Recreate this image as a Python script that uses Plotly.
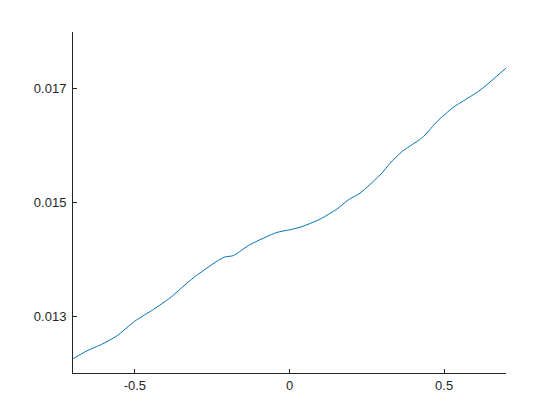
import plotly.graph_objects as go

x_vals = [-0.699, -0.656, -0.607, -0.559, -0.500, -0.440, -0.386, -0.311, -0.235,
          -0.209, -0.182, -0.128, -0.041, 0.002, 0.039, 0.099, 0.153, 0.190, 0.228,
          0.298, 0.325, 0.363, 0.416, 0.438, 0.476, 0.530, 0.557, 0.616, 0.700]
y_vals = [0.012254, 0.012387, 0.012505, 0.012650, 0.012913, 0.013118, 0.013323,
          0.013674, 0.013965, 0.014042, 0.014065, 0.014258, 0.014473, 0.014521,
          0.014573, 0.014708, 0.014883, 0.015046, 0.015164, 0.015514, 0.015690,
          0.015893, 0.016089, 0.016186, 0.016419, 0.016677, 0.016770, 0.016975,
          0.017365]

x_ticks = [-0.5, 0, 0.5]
x_tick_text = ["-0.5", "0", "0.5"]
y_ticks = [0.013, 0.015, 0.017]
y_tick_text = ["0.013", "0.015", "0.017"]

fig = go.Figure(go.Scatter(x=x_vals, y=y_vals, mode="lines",
                           line=dict(color="#0072BD", width=1, shape="spline", smoothing=0.6)))

axis_common = dict(showgrid=False, zeroline=False, showline=True, linecolor="#262626",
                   linewidth=1, ticks="inside", ticklen=4, tickcolor="#262626",
                   tickfont=dict(family="Liberation Sans, Arial", size=13, color="#262626"))

fig.update_layout(
    width=552, height=412,
    margin=dict(l=65, r=54, t=24, b=47),
    paper_bgcolor="white", plot_bgcolor="white",
    showlegend=False,
    xaxis=dict(range=[-0.7, 0.7], tickvals=x_ticks, ticktext=x_tick_text, **axis_common),
    yaxis=dict(range=[0.012, 0.018], tickvals=y_ticks, ticktext=y_tick_text,
               ticklabelstandoff=3, **axis_common),
)

fig.write_html("out.html")
